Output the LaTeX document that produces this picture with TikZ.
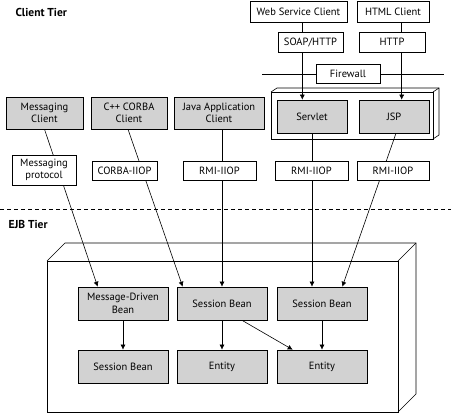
\documentclass[tikz,border=0pt]{standalone}
\usepackage{fontspec}
\setmainfont{PT Sans}
\usetikzlibrary{calc,arrows.meta}
\definecolor{boxgray}{RGB}{210,210,210}
\tikzset{
  box/.style={draw, line width=0.6pt, align=center, inner sep=1pt, font=\fontsize{10.5}{12.5}\selectfont},
  graybox/.style={box, fill=boxgray},
  whitebox/.style={box, fill=white},
  conn/.style={line width=0.6pt, -{Latex[length=5pt,width=5pt]}},
  plain/.style={line width=0.6pt},
  tier/.style={font=\fontsize{11.5}{13}\selectfont\bfseries, anchor=west}
}
\begin{document}
\begin{tikzpicture}[x=1pt,y=-1pt]
\useasboundingbox (0,0) rectangle (451,417);
% titles
\node[tier] (ct) at (12,12) {Client Tier};
\node[tier] (et) at (5,224) {EJB Tier};
% dashed tier separator
\coordinate (dl) at (0,209);
\coordinate (dr) at (451,209);
\draw[plain, dash pattern=on 4pt off 3pt] (dl) -- (dr);
% web container (3D)
\draw[plain] (271,92) rectangle (433,139);
\draw[plain] (271,92) -- (277,88) -- (439,88) -- (439,135) -- (433,139);
\draw[plain] (433,92) -- (439,88);
% EJB container (3D)
\draw[plain] (47,261) rectangle (398,412);
\draw[plain] (47,261) -- (65,243) -- (416,243) -- (416,394) -- (398,412);
\draw[plain] (398,261) -- (416,243);
% client nodes
\node[whitebox, minimum width=97pt, minimum height=21pt] (wsc) at (298.5,11.5) {Web Service Client};
\node[whitebox, minimum width=72pt, minimum height=21pt] (html) at (393,11.5) {HTML Client};
\node[graybox, minimum width=70pt, minimum height=33pt] (servlet) at (312,116.5) {Servlet};
\node[graybox, minimum width=70pt, minimum height=33pt] (jsp) at (394,116.5) {JSP};
\node[graybox, minimum width=77pt, minimum height=32pt] (msgc) at (44.5,113) {Messaging\\Client};
\node[graybox, minimum width=76pt, minimum height=32pt] (cppc) at (129,113) {C++ CORBA\\Client};
\node[graybox, minimum width=90pt, minimum height=32pt] (javac) at (219,113) {Java Application\\Client};
% EJB nodes
\node[graybox, minimum width=90pt, minimum height=33pt] (mdb) at (123,303.5) {Message-Driven\\Bean};
\node[graybox, minimum width=90pt, minimum height=33pt] (sb1) at (222,303.5) {Session Bean};
\node[graybox, minimum width=90pt, minimum height=33pt] (sb2) at (322,303.5) {Session Bean};
\node[graybox, minimum width=90pt, minimum height=33pt] (sb3) at (123,366.5) {Session Bean};
\node[graybox, minimum width=90pt, minimum height=33pt] (ent1) at (222,366.5) {Entity};
\node[graybox, minimum width=90pt, minimum height=33pt] (ent2) at (322,366.5) {Entity};
% firewall line
\coordinate (fwl) at (262,74);
\coordinate (fwr) at (444,74);
\draw[plain] (fwl) -- (fwr);
% connectors
\draw[conn] ([xshift=3.8pt]wsc.south) -- ([xshift=3.8pt]wsc.south |- servlet.north);
\draw[conn] ([xshift=8.7pt]html.south) -- ([xshift=8.7pt]html.south |- jsp.north);
\draw[conn] (msgc.south) -- ([xshift=20pt]mdb.north west);
\draw[conn] ([xshift=-1pt]cppc.south) -- ([xshift=6pt]sb1.north west);
\draw[conn] (sb1.north |- javac.south) -- (sb1.north);
\draw[conn] (servlet.south) -- (servlet.south |- sb2.north);
\draw[conn] ([xshift=2pt]jsp.south) -- ([xshift=-25pt]sb2.north east);
\draw[conn] (mdb.south) -- (sb3.north);
\draw[conn] (sb1.south) -- (ent1.north);
\draw[conn] ([xshift=20pt]sb1.south) -- ([xshift=16pt]ent2.north west);
\draw[conn] (sb2.south) -- (ent2.north);
% label boxes on top of connectors
\node[whitebox, minimum width=65pt, minimum height=20pt] (soap) at (310.5,42) {SOAP/HTTP};
\node[whitebox, minimum width=66pt, minimum height=20pt] (http) at (392,42) {HTTP};
\node[whitebox, minimum width=64pt, minimum height=19pt] (fw) at (348,73.5) {Firewall};
\node[whitebox, minimum width=64pt, minimum height=30pt] (mproto) at (44,170) {Messaging\\protocol};
\node[whitebox, minimum width=65pt, minimum height=19pt] (ciiop) at (124.5,170.5) {CORBA-IIOP};
\node[whitebox, minimum width=73pt, minimum height=19pt] (rmi1) at (219.5,170.5) {RMI-IIOP};
\node[whitebox, minimum width=73pt, minimum height=19pt] (rmi2) at (311.5,170.5) {RMI-IIOP};
\node[whitebox, minimum width=72pt, minimum height=19pt] (rmi3) at (393,170.5) {RMI-IIOP};
\end{tikzpicture}
\end{document}
